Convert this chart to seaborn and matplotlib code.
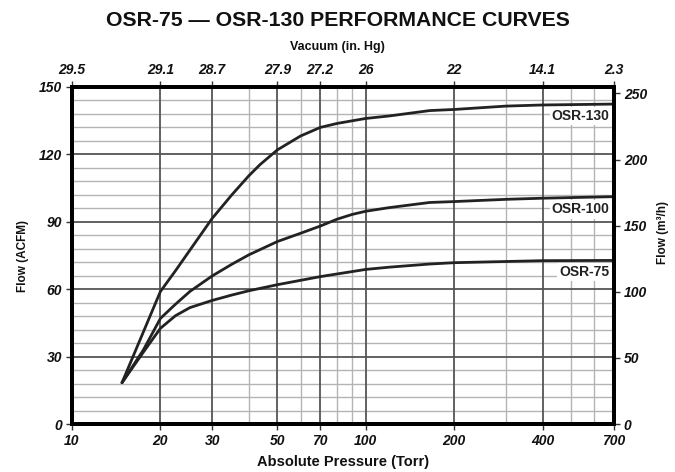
import numpy as np
import pandas as pd
import matplotlib
matplotlib.use("Agg")
import matplotlib.pyplot as plt
import seaborn as sns
from matplotlib.ticker import FixedLocator, NullFormatter, NullLocator

# ---- data ----
pressure_130 = [14.8, 17.5, 20, 22.5, 25.2, 30, 35, 40, 43.7, 50, 60, 70, 80, 100, 120, 165, 200, 300, 400, 700]
flow_130     = [18.4, 41, 59, 68.2, 77.4, 91.5, 102, 110.5, 115.5, 122, 128.2, 132, 133.8, 136, 137.1, 139.5, 140, 141.5, 142, 142.4]

pressure_100 = [14.8, 17.5, 20, 22.5, 25.2, 30, 35, 40, 50, 60, 70, 80, 90, 100, 120, 165, 200, 300, 400, 700]
flow_100     = [18.4, 33, 47, 53.3, 59, 65.9, 71.1, 75.3, 81.2, 84.9, 88.1, 91.2, 93.3, 94.7, 96.3, 98.6, 99, 100, 100.5, 101.2]

pressure_75 = [14.8, 17.5, 20, 22.5, 25.2, 30, 35, 40, 50, 70, 100, 120, 165, 200, 400, 700]
flow_75     = [18.4, 32, 42.6, 48.2, 51.8, 55, 57.4, 59.3, 62, 65.6, 68.8, 69.8, 71.2, 71.8, 72.7, 72.8]

series_names = ["OSR-130", "OSR-100", "OSR-75"]
label_y = [137, 95.5, 67.5]

x_ticks = [10, 20, 30, 50, 70, 100, 200, 400, 700]
x_minor = [40, 60, 80, 90, 300, 500, 600]
vacuum_labels = ["29.5", "29.1", "28.7", "27.9", "27.2", "26", "22", "14.1", "2.3"]
y_ticks = [0, 30, 60, 90, 120, 150]
y_minor = list(range(0, 151, 6))
m3h_ticks = [0, 50, 100, 150, 200, 250]
ACFM_TO_M3H = 1.699

df = pd.concat([
    pd.DataFrame({"Pressure": pressure_130, "Flow": flow_130, "Model": "OSR-130"}),
    pd.DataFrame({"Pressure": pressure_100, "Flow": flow_100, "Model": "OSR-100"}),
    pd.DataFrame({"Pressure": pressure_75, "Flow": flow_75, "Model": "OSR-75"}),
])

sns.set_style("white")
plt.rcParams['font.family'] = ['Liberation Sans', 'DejaVu Sans']

fig = plt.figure(figsize=(6.75, 4.72), dpi=100)
ax = fig.add_axes([72/675, 48/472, 542/675, 337/472])

ax.set_xscale("log")
ax.set_xlim(10, 700)
ax.set_ylim(0, 150)

# grid
for v in x_minor:
    ax.axvline(v, color="#b4b4b4", lw=1.0, zorder=1)
for v in x_ticks[1:-1]:
    ax.axvline(v, color="#555555", lw=1.3, zorder=1.5)
for v in y_minor:
    if v % 30 != 0:
        ax.axhline(v, color="#b4b4b4", lw=1.0, zorder=1)
for v in y_ticks[1:-1]:
    ax.axhline(v, color="#555555", lw=1.3, zorder=1.5)

sns.lineplot(data=df, x="Pressure", y="Flow", hue="Model", hue_order=series_names,
             palette=["#222222"] * 3, linewidth=2.0, sort=False, legend=False,
             ax=ax, zorder=3)

for name, yv in zip(series_names, label_y):
    ax.text(0.992, yv, name, ha="right", va="center", fontsize=10, fontweight="bold",
            color="#222222", zorder=4, transform=ax.get_yaxis_transform(),
            bbox=dict(boxstyle="square,pad=0.15", fc="white", ec="none"))

tick_font = dict(fontsize=10, fontweight="bold", fontstyle="italic")

ax.xaxis.set_major_locator(FixedLocator(x_ticks))
ax.xaxis.set_minor_locator(NullLocator())
ax.xaxis.set_minor_formatter(NullFormatter())
ax.set_xticklabels([str(t) for t in x_ticks], **tick_font)
ax.set_yticks(y_ticks)
ax.set_yticklabels([str(t) for t in y_ticks], **tick_font)
ax.tick_params(axis="both", which="major", direction="out", length=4, width=1, color="#333333", pad=3,
               labelcolor="#111111")
ax.set_xlabel("Absolute Pressure (Torr)", fontsize=10.5, fontweight="bold", labelpad=5, color="#111111")
ax.set_ylabel("Flow (ACFM)", fontsize=8.5, fontweight="bold", labelpad=7, color="#111111")

for s in ax.spines.values():
    s.set_linewidth(2.6)
    s.set_color("black")
    s.set_zorder(5)

# right axis
ax2 = ax.twinx()
ax2.set_ylim(0, 150 * ACFM_TO_M3H)
ax2.set_yticks(m3h_ticks)
ax2.set_yticklabels([str(t) for t in m3h_ticks], **tick_font)
ax2.tick_params(axis="y", direction="out", length=4, width=1, color="#333333", pad=3, labelcolor="#111111")
for s in ax2.spines.values():
    s.set_linewidth(2.6)
    s.set_color("black")
fig.text(663/675, 1 - 232/472, "Flow (m³/h)", rotation=90, ha="center", va="center",
         fontsize=8.5, fontweight="bold", color="#111111")

# top axis (vacuum)
ax3 = ax.twiny()
ax3.set_xscale("log")
ax3.set_xlim(10, 700)
ax3.xaxis.set_major_locator(FixedLocator(x_ticks))
ax3.xaxis.set_minor_locator(NullLocator())
ax3.xaxis.set_minor_formatter(NullFormatter())
ax3.set_xticklabels(vacuum_labels, **tick_font)
ax3.tick_params(axis="x", direction="out", length=4, width=1, color="#333333", pad=3, labelcolor="#111111")
for s in ax3.spines.values():
    s.set_linewidth(2.6)
    s.set_color("black")
fig.text(0.5, 1 - 47/472, "Vacuum (in. Hg)", ha="center", va="center",
         fontsize=9, fontweight="bold", color="#111111")

fig.text(0.5, 1 - 20/472, "OSR-75 — OSR-130 PERFORMANCE CURVES", ha="center", va="center",
         fontsize=15.3, fontweight="bold", color="#111111")

fig.savefig("out.png", dpi=100)
